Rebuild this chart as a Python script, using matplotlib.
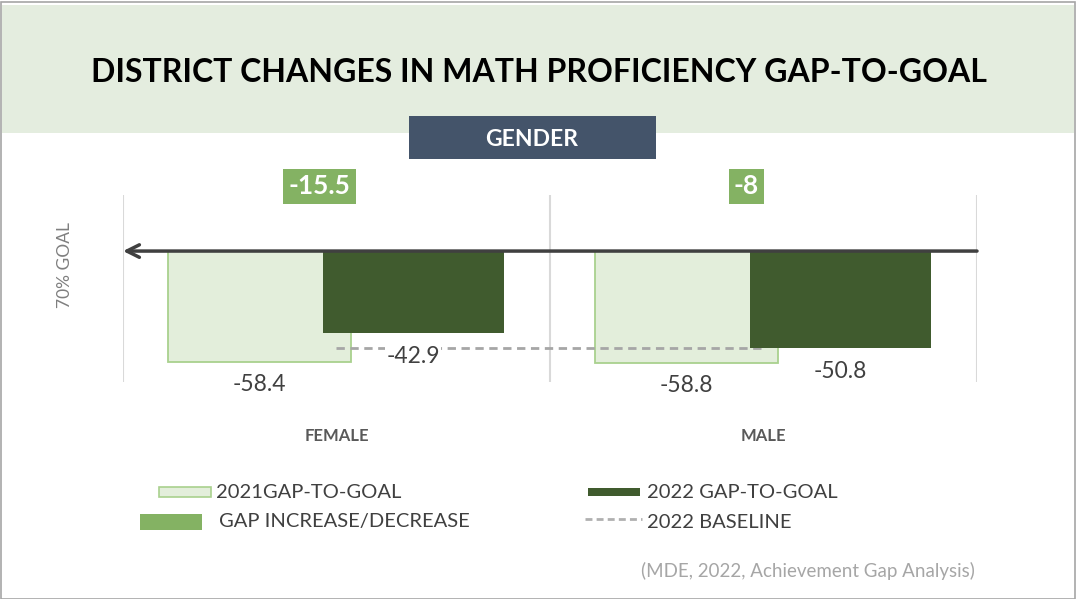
import matplotlib
matplotlib.use('Agg')
import matplotlib.pyplot as plt
from matplotlib.patches import Rectangle
from matplotlib.lines import Line2D
import numpy as np

# ---- data ----
groups = ['FEMALE', 'MALE']
gap_2021 = [-58.4, -58.8]
gap_2022 = [-42.9, -50.8]
gap_change = ['-15.5', '-8']
baseline_2022 = -50.8

TITLE = 'DISTRICT CHANGES IN MATH PROFICIENCY GAP-TO-GOAL'
SUBTITLE = 'GENDER'
SOURCE = '(MDE, 2022, Achievement Gap Analysis)'

LIGHT = '#E3EEDB'
LIGHT_EDGE = '#A9D18E'
DARK = '#405B2E'
GREEN = '#84B263'
BAND = '#E4EDDF'
NAVY = '#44546A'
TXT = '#404040'

W, H = 1076, 599
plt.rcParams['font.family'] = ['Lato', 'DejaVu Sans']


def fx(x):
    return x / W


def fy(y):
    return 1 - y / H


fig = plt.figure(figsize=(W / 100, H / 100), dpi=100)

# title band and header box
fig.add_artist(Rectangle((fx(2), fy(133)), fx(1072), 128 / H,
                         transform=fig.transFigure, fc=BAND, ec='none', zorder=0))
fig.text(fx(539), fy(73), TITLE, ha='center', va='center',
         fontsize=23, fontweight='bold', color='black')
fig.add_artist(Rectangle((fx(409), fy(159)), fx(247), 43 / H,
                         transform=fig.transFigure, fc=NAVY, ec='none', zorder=1))
fig.text(fx(532), fy(139), SUBTITLE, ha='center', va='center',
         fontsize=16.5, fontweight='bold', color='white', zorder=2)
# outer frame
fig.add_artist(Rectangle((0.0005, 0.0005), 0.999, 0.996, transform=fig.transFigure,
                         fc='none', ec='#A6A6A6', lw=1.2))

# ---- plot ----
ax = fig.add_axes([fx(123), fy(382), fx(977 - 123), (382 - 195) / H])
x = np.arange(len(groups))
off = 0.18

ax.bar(x - off, gap_2021, width=0.43, color=LIGHT, edgecolor=LIGHT_EDGE,
       linewidth=1.3, zorder=2)
ax.plot([x[0], x[-1]], [baseline_2022, baseline_2022], color='#A6A6A6',
        lw=2, ls=(0, (3, 2)), zorder=3)
ax.bar(x + off, gap_2022, width=0.424, color=DARK, edgecolor='none', zorder=4)

for xi, v in zip(x - off, gap_2021):
    ax.annotate(f'{v:g}', (xi, v), xytext=(0, -16), textcoords='offset points',
                ha='center', va='center', fontsize=16.5, color=TXT, zorder=5)
for xi, v in zip(x + off, gap_2022):
    ax.annotate(f'{v:g}', (xi, v), xytext=(0, -17), textcoords='offset points',
                ha='center', va='center', fontsize=16.5, color=TXT, zorder=5,
                bbox=dict(boxstyle='square,pad=0.05', fc='white', ec='none'))

for xi, lab in zip(x, gap_change):
    ax.text(xi - 0.04, 34, lab, ha='center', va='center', fontsize=19,
            fontweight='bold', color='white', clip_on=False,
            bbox=dict(boxstyle='square,pad=0.2', fc=GREEN, ec='none'))

for g in [-0.5, 0.5, 1.5]:
    ax.axvline(g, color='#D9D9D9', lw=1.5, zorder=1)

ax.annotate('', xy=(-0.5, 0), xytext=(1.5, 0),
            arrowprops=dict(arrowstyle='->,head_length=0.9,head_width=0.45',
                            lw=2.5, color=TXT, shrinkA=0, shrinkB=0),
            zorder=6, annotation_clip=False)

ax.set_xlim(-0.5, 1.5)
ax.set_ylim(-68.9, 29.5)
ax.set_xticks(x)
ax.set_xticklabels(groups, fontsize=12, fontweight='bold', color='#595959')
ax.tick_params(axis='x', length=0, pad=33)
ax.set_yticks([])
for s in ax.spines.values():
    s.set_visible(False)
ax.patch.set_alpha(0)

fig.text(fx(65), fy(265), '70% GOAL', rotation=90, ha='center', va='center',
         fontsize=12.5, color='#7F7F7F')

# ---- legend ----
fig.add_artist(Rectangle((fx(159), fy(497)), 52 / W, 10 / H, transform=fig.transFigure,
                         fc=LIGHT, ec=LIGHT_EDGE, lw=1.2))
fig.text(fx(216), fy(492), '2021GAP-TO-GOAL', ha='left', va='center',
         fontsize=14.5, color=TXT)
fig.add_artist(Rectangle((fx(140), fy(530)), 62 / W, 16 / H, transform=fig.transFigure,
                         fc=GREEN, ec='none'))
fig.text(fx(219), fy(522), 'GAP INCREASE/DECREASE', ha='left', va='center',
         fontsize=14.5, color=TXT)
fig.add_artist(Rectangle((fx(588), fy(496)), 52 / W, 8 / H, transform=fig.transFigure,
                         fc=DARK, ec='none'))
fig.text(fx(647), fy(492), '2022 GAP-TO-GOAL', ha='left', va='center',
         fontsize=14.5, color=TXT)
fig.add_artist(Line2D([fx(585), fx(642)], [fy(519), fy(519)], transform=fig.transFigure,
                      color='#B0B0B0', lw=2, ls=(0, (2.5, 1.5))))
fig.text(fx(647), fy(522), '2022 BASELINE', ha='left', va='center',
         fontsize=14.5, color=TXT)

fig.text(fx(975), fy(571), SOURCE, ha='right', va='center', fontsize=13.5,
         color='#A6A6A6')

fig.savefig('out.png', dpi=100)
